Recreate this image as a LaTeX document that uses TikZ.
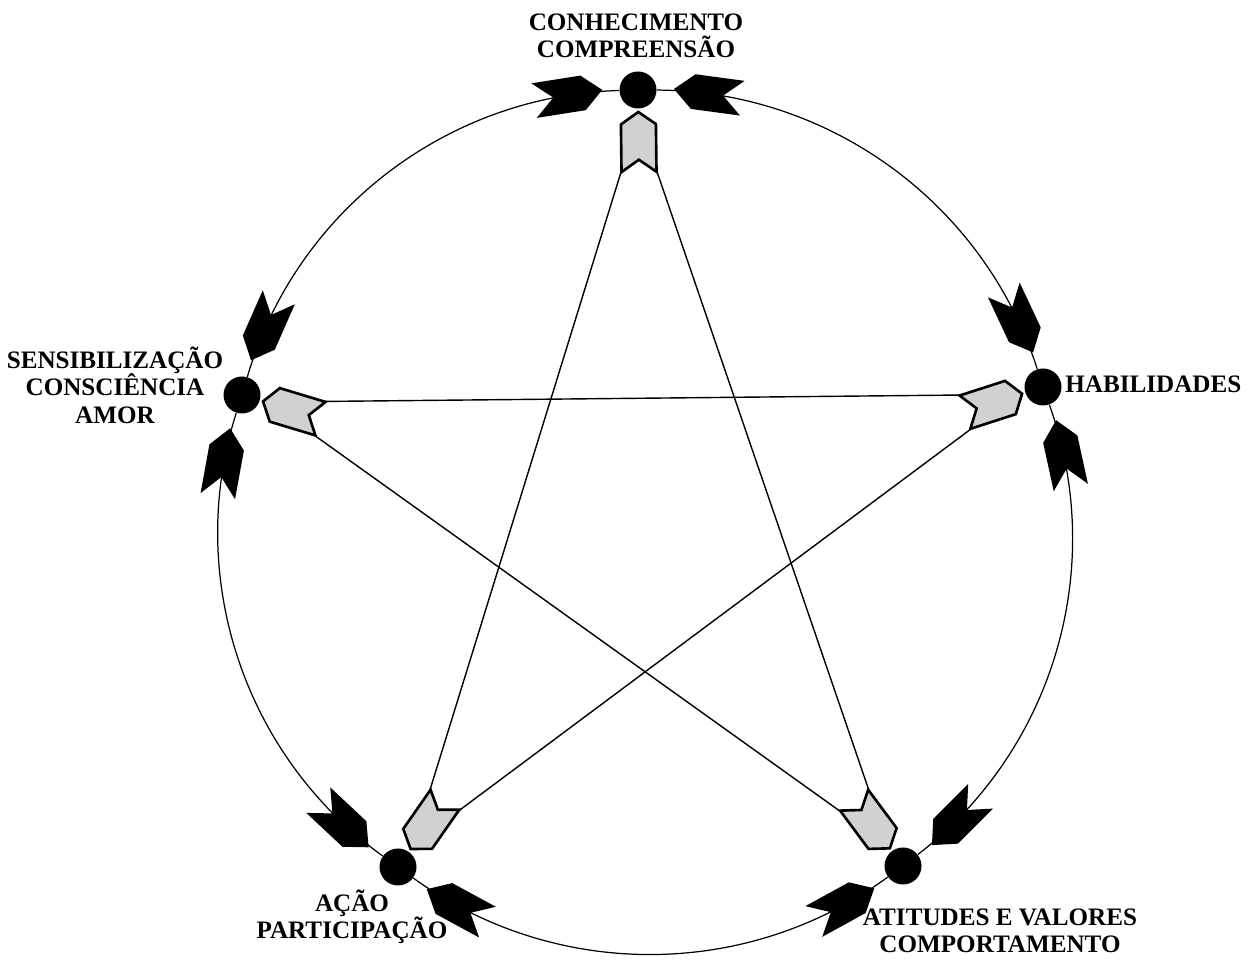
\documentclass[tikz,border=0pt]{standalone}
\usepackage{fontspec}
\setmainfont{Liberation Serif}
\usetikzlibrary{shapes.symbols,calc,positioning}

\begin{document}
\begin{tikzpicture}[x=0.02cm, y=0.02cm,
    dot/.style={circle, fill=black, inner sep=0pt, minimum size=0.74cm},
    blk/.style={signal, fill=black, inner sep=0pt, minimum width=1.38cm, minimum height=0.7cm, signal pointer angle=84, sloped, allow upside down},
    tipstart/.style={blk, pos=0.1, signal to=west, signal from=east},
    tipend/.style={blk, pos=0.9, signal to=east, signal from=west},
    gry/.style={signal, draw, line width=1.5pt, fill=black!18, inner sep=0pt, minimum width=1.2cm, minimum height=0.7cm, signal pointer angle=110, signal to=east, signal from=west},
    rim/.style={line width=0.7pt, bend right=36, looseness=0.94},
    chord/.style={line width=0.8pt},
    lbl/.style={font=\fontsize{14.3}{15.6}\selectfont\bfseries, align=center, inner sep=0pt}
]
\useasboundingbox (0,0) rectangle (1250,962);

% the five stations
\node[dot] (C) at (638,872) {};
\node[dot] (H) at (1043,575) {};
\node[dot] (T) at (903,96) {};
\node[dot] (A) at (398,95) {};
\node[dot] (S) at (242,567) {};

\node[lbl] (lC) at (636,926) {CONHECIMENTO\\COMPREENSÃO};
\node[lbl] (lS) at (115,577) {SENSIBILIZAÇÃO\\CONSCIÊNCIA\\AMOR};
\node[lbl, anchor=west] (lH) at (1065,578) {HABILIDADES};
\node[lbl] (lA) at (352,45) {AÇÃO\\PARTICIPAÇÃO};
\node[lbl] (lT) at (1000,31) {ATITUDES E VALORES\\COMPORTAMENTO};

% outer ring
\draw[rim] (C) to node[tipstart] {} node[tipend] {} (S);
\draw[rim] (S) to node[tipstart] {} node[tipend] {} (A);
\draw[rim] (A) to node[tipstart] {} node[tipend] {} (T);
\draw[rim] (T) to node[tipstart] {} node[tipend] {} (H);
\draw[rim] (H) to node[tipstart] {} node[tipend] {} (C);

% inner star
\node[gry, rotate=90.7] (gC) at ($(C)+(270.7:52)$) {};
\node[gry, rotate=163.2] (gS) at ($(S)+(343.2:52)$) {};
\node[gry, rotate=235.1] (gA) at ($(A)+(55.1:52)$) {};
\node[gry, rotate=306.6] (gT) at ($(T)+(126.6:52)$) {};
\node[gry, rotate=17.9] (gH) at ($(H)+(197.9:52)$) {};

\coordinate (C-l) at ($(gC)+(239.7:35)$);
\coordinate (C-r) at ($(gC)+(301.7:35)$);
\coordinate (S-l) at ($(gS)+(312.2:35)$);
\coordinate (S-r) at ($(gS)+(14.2:35)$);
\coordinate (A-l) at ($(gA)+(24.1:35)$);
\coordinate (A-r) at ($(gA)+(86.1:35)$);
\coordinate (T-l) at ($(gT)+(95.6:35)$);
\coordinate (T-r) at ($(gT)+(157.6:35)$);
\coordinate (H-l) at ($(gH)+(166.9:35)$);
\coordinate (H-r) at ($(gH)+(228.9:35)$);

\draw[chord] (C-l) -- (A-r);
\draw[chord] (S-l) -- (T-r);
\draw[chord] (A-l) -- (H-r);
\draw[chord] (T-l) -- (C-r);
\draw[chord] (H-l) -- (S-r);
\end{tikzpicture}
\end{document}
